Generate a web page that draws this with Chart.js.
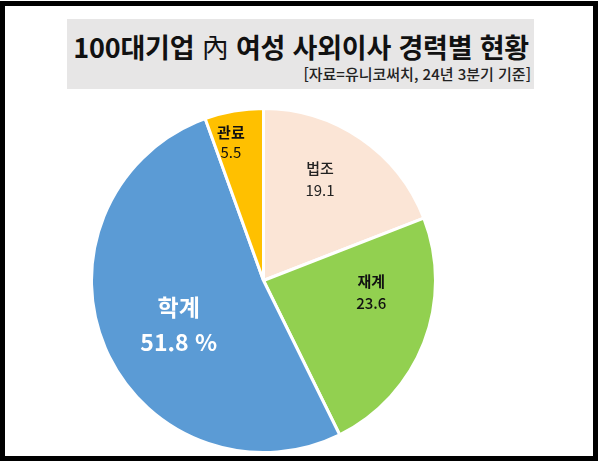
<!DOCTYPE html>
<html lang="ko">
<head>
    <meta charset="UTF-8">
    <title>100대기업 內 여성 사외이사 경력별 현황</title>
    <script src="https://cdn.jsdelivr.net/npm/chart.js"></script>
    <style>
        body { margin: 0; background: #fff; font-family: 'Noto Sans CJK KR', sans-serif; }
        .frame {
            position: absolute; left: 0; top: 1px; width: 588px; height: 450px;
            border: 5px solid #000;
        }
        .head {
            position: absolute; left: 67px; top: 19px; width: 467px; height: 70px;
            background: #e7e6e6;
        }
        .head h1 {
            position: absolute; right: 5px; top: 8px; margin: 0;
            font-size: 27px; font-weight: 700; color: #111; white-space: nowrap;
            letter-spacing: -0.2px;
        }
        .head h1 .hanja { font-weight: 400; }
        .head p {
            position: absolute; right: 3px; top: 44px; margin: 0;
            font-size: 15px; font-weight: 500; color: #222; white-space: nowrap;
        }
        .pie { position: absolute; left: 90px; top: 107px; width: 347px; height: 347px; }
    </style>
</head>
<body>
    <div class="frame"></div>
    <header class="head">
        <h1>100대기업 <span class="hanja">內</span> 여성 사외이사 경력별 현황</h1>
        <p>[자료=유니코써치, 24년 3분기 기준]</p>
    </header>
    <div class="pie"><canvas id="careerPie"></canvas></div>

    <script>
        // 경력별 비중 (%), 12시 방향부터 시계방향
        const categories = ['법조', '재계', '학계', '관료'];
        const shares = [19.1, 23.6, 51.8, 5.5];
        const valueSuffix = ['', '', ' %', ''];
        const sliceColors = ['#fbe5d6', '#92d050', '#5b9bd5', '#ffc000'];

        // label styling per slice
        const labelColor = ['#222', '#111', '#fff', '#111'];
        const labelSize = [15, 15, 23, 15];
        const nameWeight = ['500', '700', '700', '700'];
        const valueWeight = ['400', '500', '700', '400'];
        const labelRadius = [0.676, 0.63, 0.557, 0.824];
        const labelNudge = [-5.3, -15, -4.7, -3.4]; // degrees
        const labelGap = [22, 22, 35, 20];

        const sliceLabels = {
            id: 'sliceLabels',
            afterDatasetsDraw(chart) {
                const ctx = chart.ctx;
                chart.getDatasetMeta(0).data.forEach((arc, i) => {
                    const p = arc.getProps(['x', 'y', 'startAngle', 'endAngle', 'outerRadius'], true);
                    const mid = (p.startAngle + p.endAngle) / 2 + labelNudge[i] * Math.PI / 180;
                    const r = p.outerRadius * labelRadius[i];
                    const cx = p.x + Math.cos(mid) * r;
                    const cy = p.y + Math.sin(mid) * r;
                    ctx.save();
                    ctx.fillStyle = labelColor[i];
                    ctx.textAlign = 'center';
                    ctx.textBaseline = 'middle';
                    ctx.font = nameWeight[i] + ' ' + labelSize[i] + "px 'Noto Sans CJK KR'";
                    ctx.fillText(categories[i], cx, cy - labelGap[i] / 2);
                    ctx.font = valueWeight[i] + ' ' + labelSize[i] + "px 'Noto Sans CJK KR'";
                    ctx.fillText(shares[i].toFixed(1) + valueSuffix[i], cx, cy + labelGap[i] / 2);
                    ctx.restore();
                });
            }
        };

        const careerCtx = document.getElementById('careerPie').getContext('2d');
        const careerPie = new Chart(careerCtx, {
            type: 'pie',
            data: {
                labels: categories,
                datasets: [{
                    data: shares,
                    backgroundColor: sliceColors,
                    borderColor: '#ffffff',
                    borderWidth: 3
                }]
            },
            options: {
                responsive: true,
                maintainAspectRatio: false,
                animation: false,
                layout: { padding: 0 },
                plugins: {
                    legend: { display: false },
                    tooltip: { enabled: false }
                }
            },
            plugins: [sliceLabels]
        });
    </script>
</body>
</html>
